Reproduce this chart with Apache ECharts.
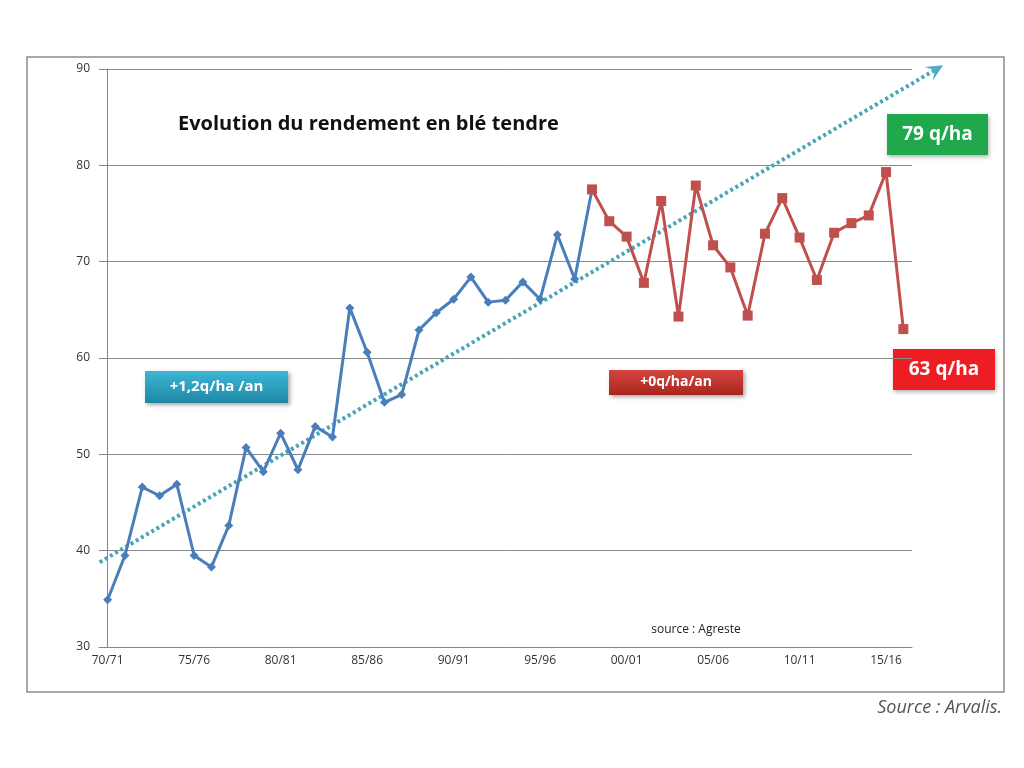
<!DOCTYPE html>
<html>
<head>
<meta charset="utf-8">
<script src="https://cdn.jsdelivr.net/npm/echarts@6/dist/echarts.min.js"></script>
<style>
  html, body { margin: 0; padding: 0; background: #fff; }
  #chart { width: 1024px; height: 768px; }
</style>
</head>
<body>
<div id="chart"></div>
<script>
// campagnes 70/71 .. 16/17
const campagnes = [
  '70/71','71/72','72/73','73/74','74/75','75/76','76/77','77/78','78/79','79/80',
  '80/81','81/82','82/83','83/84','84/85','85/86','86/87','87/88','88/89','89/90',
  '90/91','91/92','92/93','93/94','94/95','95/96','96/97','97/98','98/99','99/00',
  '00/01','01/02','02/03','03/04','04/05','05/06','06/07','07/08','08/09','09/10',
  '10/11','11/12','12/13','13/14','14/15','15/16','16/17'
];

// rendement q/ha, période 70/71 - 98/99 (bleu)
const rendementAvant = [
  34.9, 39.5, 46.6, 45.7, 46.9, 39.5, 38.3, 42.6, 50.7, 48.2,
  52.2, 48.4, 52.9, 51.8, 65.2, 60.6, 55.4, 56.2, 62.9, 64.7,
  66.1, 68.4, 65.8, 66.0, 67.9, 66.1, 72.8, 68.2, 77.5
];

// rendement q/ha, période 98/99 - 16/17 (rouge)
const rendementApres = [
  77.5, 74.2, 72.6, 67.8, 76.3, 64.3, 77.9, 71.7, 69.4, 64.4,
  72.9, 76.6, 72.5, 68.1, 73.0, 74.0, 74.8, 79.3, 63.0
];
const debutApres = 28;

// tendance (pointillés) : [position campagne, q/ha]
const tendance = [[-0.46, 38.8], [48.3, 90.4]];

const yTicks = { min: 30, max: 90, interval: 10 };

const serieBleue = campagnes.map((c, i) => i < rendementAvant.length ? rendementAvant[i] : '-');
const serieRouge = campagnes.map((c, i) => i >= debutApres ? rendementApres[i - debutApres] : '-');

const chart = echarts.init(document.getElementById('chart'));
const font = '"Open Sans", Lato, sans-serif';

const option = {
  backgroundColor: '#fff',
  animation: false,
  grid: { left: 99, right: 112, top: 69, bottom: 121 },
  xAxis: [
    {
      type: 'category',
      data: campagnes,
      boundaryGap: true,
      axisLine: { lineStyle: { color: '#868686', width: 1 } },
      axisTick: { interval: 0, length: 4, lineStyle: { color: '#868686' } },
      axisLabel: { interval: 4, color: '#333', fontSize: 12, fontFamily: font, margin: 8 },
      splitLine: { show: false }
    },
    {
      // axe caché pour la droite de tendance
      type: 'value',
      min: -0.5,
      max: campagnes.length - 0.5,
      show: false
    }
  ],
  yAxis: {
    type: 'value',
    min: yTicks.min,
    max: yTicks.max,
    interval: yTicks.interval,
    axisLine: { show: true, lineStyle: { color: '#868686', width: 1 } },
    axisTick: { show: true, length: 4, lineStyle: { color: '#868686' } },
    axisLabel: { color: '#333', fontSize: 12, fontFamily: font, margin: 9 },
    splitLine: { lineStyle: { color: '#8a8a8a', width: 1 } }
  },
  series: [
    {
      name: 'avant',
      type: 'line',
      data: serieBleue,
      z: 3,
      symbol: 'diamond',
      symbolSize: 9,
      itemStyle: { color: '#4a7ebb' },
      lineStyle: { color: '#4a7ebb', width: 3 }
    },
    {
      name: 'après',
      type: 'line',
      data: serieRouge,
      z: 4,
      symbol: 'rect',
      symbolSize: 10,
      itemStyle: { color: '#c0504d' },
      lineStyle: { color: '#c0504d', width: 3 }
    }
  ],
  graphic: [
    {
      type: 'rect', z: -1,
      shape: { x: 27, y: 57, width: 977, height: 635 },
      style: { fill: 'none', stroke: '#8c8c8c', lineWidth: 1.5 }
    },
    {
      type: 'text', x: 178, y: 124,
      style: { text: 'Evolution du rendement en blé tendre', font: 'bold 20px ' + font,
        fill: '#111', verticalAlign: 'middle' }
    },
    {
      type: 'group', x: 145, y: 371,
      children: [
        { type: 'rect', shape: { width: 143, height: 32 },
          style: { fill: new echarts.graphic.LinearGradient(0, 0, 0, 1, [
            { offset: 0, color: '#3cb6d6' }, { offset: 1, color: '#1f87a6' }]),
            shadowBlur: 4, shadowOffsetX: 2, shadowOffsetY: 2, shadowColor: 'rgba(0,0,0,0.35)' } },
        { type: 'text', x: 71.5, y: 16,
          style: { text: '+1,2q/ha /an', font: 'bold 15px ' + font, fill: '#fff',
            align: 'center', verticalAlign: 'middle' } }
      ]
    },
    {
      type: 'group', x: 609, y: 370,
      children: [
        { type: 'rect', shape: { width: 134, height: 25 },
          style: { fill: new echarts.graphic.LinearGradient(0, 0, 0, 1, [
            { offset: 0, color: '#d6453f' }, { offset: 1, color: '#a8261f' }]),
            shadowBlur: 4, shadowOffsetX: 2, shadowOffsetY: 2, shadowColor: 'rgba(0,0,0,0.35)' } },
        { type: 'text', x: 67, y: 12.5,
          style: { text: '+0q/ha/an', font: 'bold 14px ' + font, fill: '#fff',
            align: 'center', verticalAlign: 'middle' } }
      ]
    },
    {
      type: 'group', x: 887, y: 114,
      children: [
        { type: 'rect', shape: { width: 101, height: 41 },
          style: { fill: '#1fa94c',
            shadowBlur: 4, shadowOffsetX: 1, shadowOffsetY: 2, shadowColor: 'rgba(0,0,0,0.3)' } },
        { type: 'text', x: 50.5, y: 21,
          style: { text: '79 q/ha', font: 'bold 19px ' + font, fill: '#fff',
            align: 'center', verticalAlign: 'middle' } }
      ]
    },
    {
      type: 'group', x: 893, y: 349,
      children: [
        { type: 'rect', shape: { width: 102, height: 41 },
          style: { fill: '#ee1d23',
            shadowBlur: 4, shadowOffsetX: 1, shadowOffsetY: 2, shadowColor: 'rgba(0,0,0,0.3)' } },
        { type: 'text', x: 51, y: 21,
          style: { text: '63 q/ha', font: 'bold 19px ' + font, fill: '#fff',
            align: 'center', verticalAlign: 'middle' } }
      ]
    },
    {
      type: 'text', x: 696, y: 630,
      style: { text: 'source : Agreste', font: '12px ' + font, fill: '#222',
        align: 'center', verticalAlign: 'middle' }
    },
    {
      type: 'text', x: 1002, y: 708,
      style: { text: 'Source : Arvalis.', font: 'italic 18px ' + font, fill: '#555',
        align: 'right', verticalAlign: 'middle' }
    }
  ]
};

chart.setOption(option);

// droite de tendance : placée via les échelles du graphique (dépasse la zone de tracé)
const toPx = (p) => [
  chart.convertToPixel({ xAxisIndex: 1 }, p[0]),
  chart.convertToPixel({ yAxisIndex: 0 }, p[1])
];
const a = toPx(tendance[0]);
const b = toPx(tendance[1]);
const ang = Math.atan2(b[1] - a[1], b[0] - a[0]);
const head = 17;
const wing = (s) => [
  b[0] - head * Math.cos(ang) + s * 8 * Math.sin(ang),
  b[1] - head * Math.sin(ang) - s * 8 * Math.cos(ang)
];
const notch = [b[0] - head * 0.55 * Math.cos(ang), b[1] - head * 0.55 * Math.sin(ang)];
chart.setOption({
  graphic: [
    {
      id: 'tendance', type: 'polyline', z: 1,
      shape: { points: [a, notch] },
      style: { stroke: '#48a6b4', lineWidth: 4, lineDash: [3, 3], fill: null }
    },
    {
      id: 'fleche', type: 'polygon', z: 1,
      shape: { points: [b, wing(1), notch, wing(-1)] },
      style: { fill: '#4fa9c9' }
    }
  ]
});

window.addEventListener('resize', () => chart.resize());
</script>
</body>
</html>
